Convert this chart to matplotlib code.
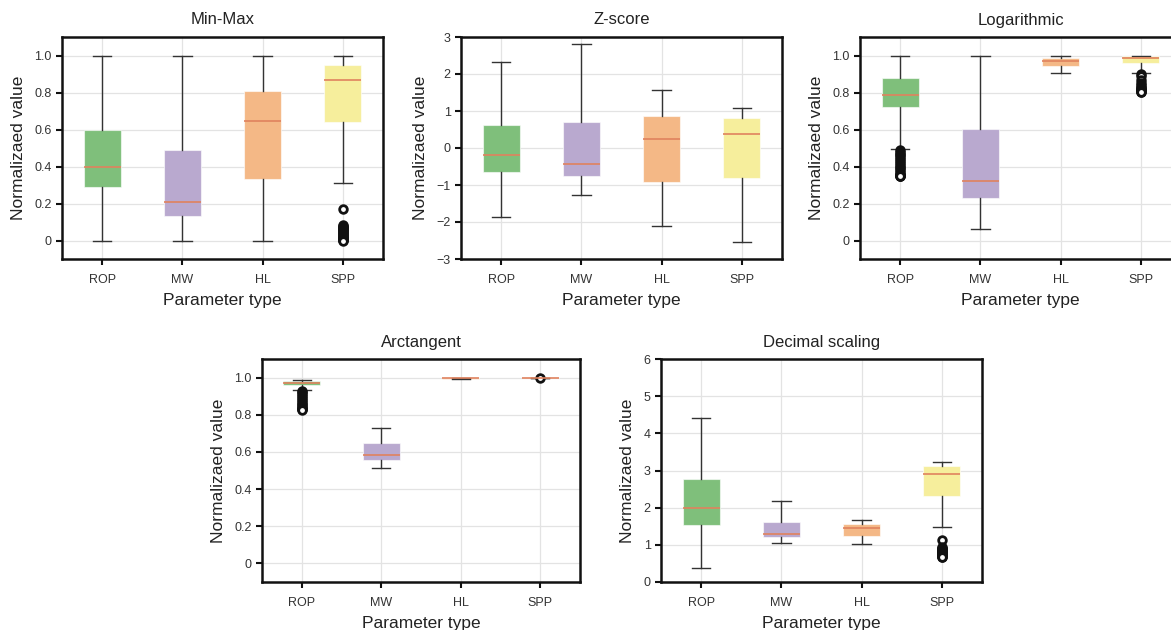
import numpy as np
import matplotlib
matplotlib.use("Agg")
import matplotlib.pyplot as plt

plt.rcParams['font.family'] = ['Liberation Sans', 'DejaVu Sans']

params = ["ROP", "MW", "HL", "SPP"]
colors = ["#7fbf7b", "#b9a9cf", "#f4b886", "#f6ee9c"]

# (whislo, q1, med, q3, whishi) per parameter
minmax = [(0.0, 0.29, 0.40, 0.595, 1.0),
          (0.0, 0.13, 0.21, 0.49, 1.0),
          (0.0, 0.33, 0.645, 0.81, 1.0),
          (0.31, 0.64, 0.87, 0.95, 1.0)]
minmax_fliers = [[], [], [],
                 [0.17, 0.085, 0.08, 0.075, 0.07, 0.065, 0.06, 0.055, 0.05, 0.045,
                  0.04, 0.035, 0.03, 0.025, 0.02, 0.015, 0.01, 0.007, 0.004, 0.002, 0.0]]

zscore = [(-1.86, -0.66, -0.19, 0.63, 2.32),
          (-1.28, -0.75, -0.42, 0.71, 2.80),
          (-2.12, -0.91, 0.25, 0.86, 1.56),
          (-2.55, -0.81, 0.39, 0.81, 1.08)]
zscore_fliers = [[], [], [], []]

logar = [(0.492, 0.722, 0.786, 0.878, 1.0),
         (0.061, 0.228, 0.321, 0.605, 1.0),
         (0.905, 0.941, 0.971, 0.986, 1.0),
         (0.905, 0.959, 0.986, 0.995, 1.0)]
logar_fliers = [[0.49, 0.48, 0.47, 0.46, 0.45, 0.44, 0.43, 0.42, 0.41, 0.40,
                 0.39, 0.38, 0.37, 0.36, 0.355, 0.352, 0.35, 0.348, 0.346],
                [], [],
                [0.90, 0.89, 0.87, 0.85, 0.84, 0.83, 0.825, 0.82, 0.815, 0.81,
                 0.807, 0.805, 0.803]]

arctan = [(0.935, 0.960, 0.971, 0.980, 0.986),
          (0.516, 0.554, 0.581, 0.649, 0.728),
          (0.994, 0.995, 0.996, 0.997, 0.998),
          (0.999, 0.9995, 1.0, 1.0, 1.0)]
arctan_fliers = [[0.93, 0.92, 0.91, 0.90, 0.89, 0.88, 0.87, 0.86, 0.85, 0.84,
                  0.835, 0.833, 0.83, 0.828],
                 [], [], [0.998]]

decimal = [(0.38, 1.54, 1.99, 2.78, 4.42),
           (1.05, 1.20, 1.29, 1.62, 2.19),
           (1.03, 1.23, 1.46, 1.56, 1.67),
           (1.47, 2.32, 2.90, 3.11, 3.24)]
decimal_fliers = [[], [], [],
                  [1.12, 0.95, 0.92, 0.9, 0.88, 0.86, 0.84, 0.82, 0.8, 0.78, 0.76,
                   0.74, 0.72, 0.7, 0.69, 0.68, 0.675]]

unit_ticks = [0, 0.2, 0.4, 0.6, 0.8, 1.0]
unit_labels = ["0", "0.2", "0.4", "0.6", "0.8", "1.0"]
z_ticks = [-3, -2, -1, 0, 1, 2, 3]
z_labels = ["\u22123", "\u22122", "\u22121", "0", "1", "2", "3"]
dec_ticks = [0, 1, 2, 3, 4, 5, 6]
dec_labels = ["0", "1", "2", "3", "4", "5", "6"]

panels = [
    ("Min-Max", minmax, minmax_fliers, (-0.1, 1.1), unit_ticks, unit_labels),
    ("Z-score", zscore, zscore_fliers, (-3, 3), z_ticks, z_labels),
    ("Logarithmic", logar, logar_fliers, (-0.1, 1.1), unit_ticks, unit_labels),
    ("Arctangent", arctan, arctan_fliers, (-0.1, 1.1), unit_ticks, unit_labels),
    ("Decimal scaling", decimal, decimal_fliers, (0, 6), dec_ticks, dec_labels),
]

W, H = 1171, 630
# axes boxes in pixels: left, top, right, bottom
boxes = [(62, 37, 383, 259), (461, 37, 782, 259), (860, 37, 1181, 259),
         (262, 359, 580, 582), (661, 359, 982, 582)]

fig = plt.figure(figsize=(W / 100, H / 100), dpi=100)

for (title, stats5, fl, ylim, yt, ytl), (l, t, r, b) in zip(panels, boxes):
    ax = fig.add_axes([l / W, 1 - b / H, (r - l) / W, (b - t) / H])
    stats = []
    for name, s, f in zip(params, stats5, fl):
        stats.append(dict(label=name, whislo=s[0], q1=s[1], med=s[2], q3=s[3],
                          whishi=s[4], fliers=f))
    bp = ax.bxp(stats, positions=[1, 2, 3, 4], widths=0.46, patch_artist=True,
                boxprops=dict(linewidth=0.8),
                medianprops=dict(color="#e0825e", linewidth=1.2),
                whiskerprops=dict(color="#333333", linewidth=1.0),
                capprops=dict(color="#333333", linewidth=1.0),
                flierprops=dict(marker="o", markersize=5.5, markerfacecolor="white",
                                markeredgecolor="#111111", markeredgewidth=2.0))
    for patch, c in zip(bp["boxes"], colors):
        patch.set_facecolor(c)
        patch.set_edgecolor((1, 1, 1, 0.6))
        patch.set_zorder(2)
    for m in bp["medians"]:
        m.set_zorder(3)
    ax.set_xlim(0.5, 4.5)
    ax.set_ylim(*ylim)
    ax.set_yticks(yt)
    ax.set_yticklabels(ytl)
    ax.set_xticks([1, 2, 3, 4])
    ax.set_xticklabels(params)
    ax.grid(True, color="#e3e3e3", linewidth=0.9)
    ax.set_axisbelow(True)
    for sp in ax.spines.values():
        sp.set_linewidth(1.8)
        sp.set_color("#111111")
    ax.tick_params(axis="both", direction="out", length=4, width=1.5,
                   labelsize=9, labelcolor="#333333", color="#111111")
    ax.tick_params(axis="x", pad=7)
    ax.set_title(title, fontsize=12, color="#222222", pad=9)
    ax.set_xlabel("Parameter type", fontsize=12.5, color="#222222", labelpad=5)
    ax.set_ylabel("Normalizaed value", fontsize=12.5, color="#222222", labelpad=6)

fig.savefig("out.png", dpi=100)
